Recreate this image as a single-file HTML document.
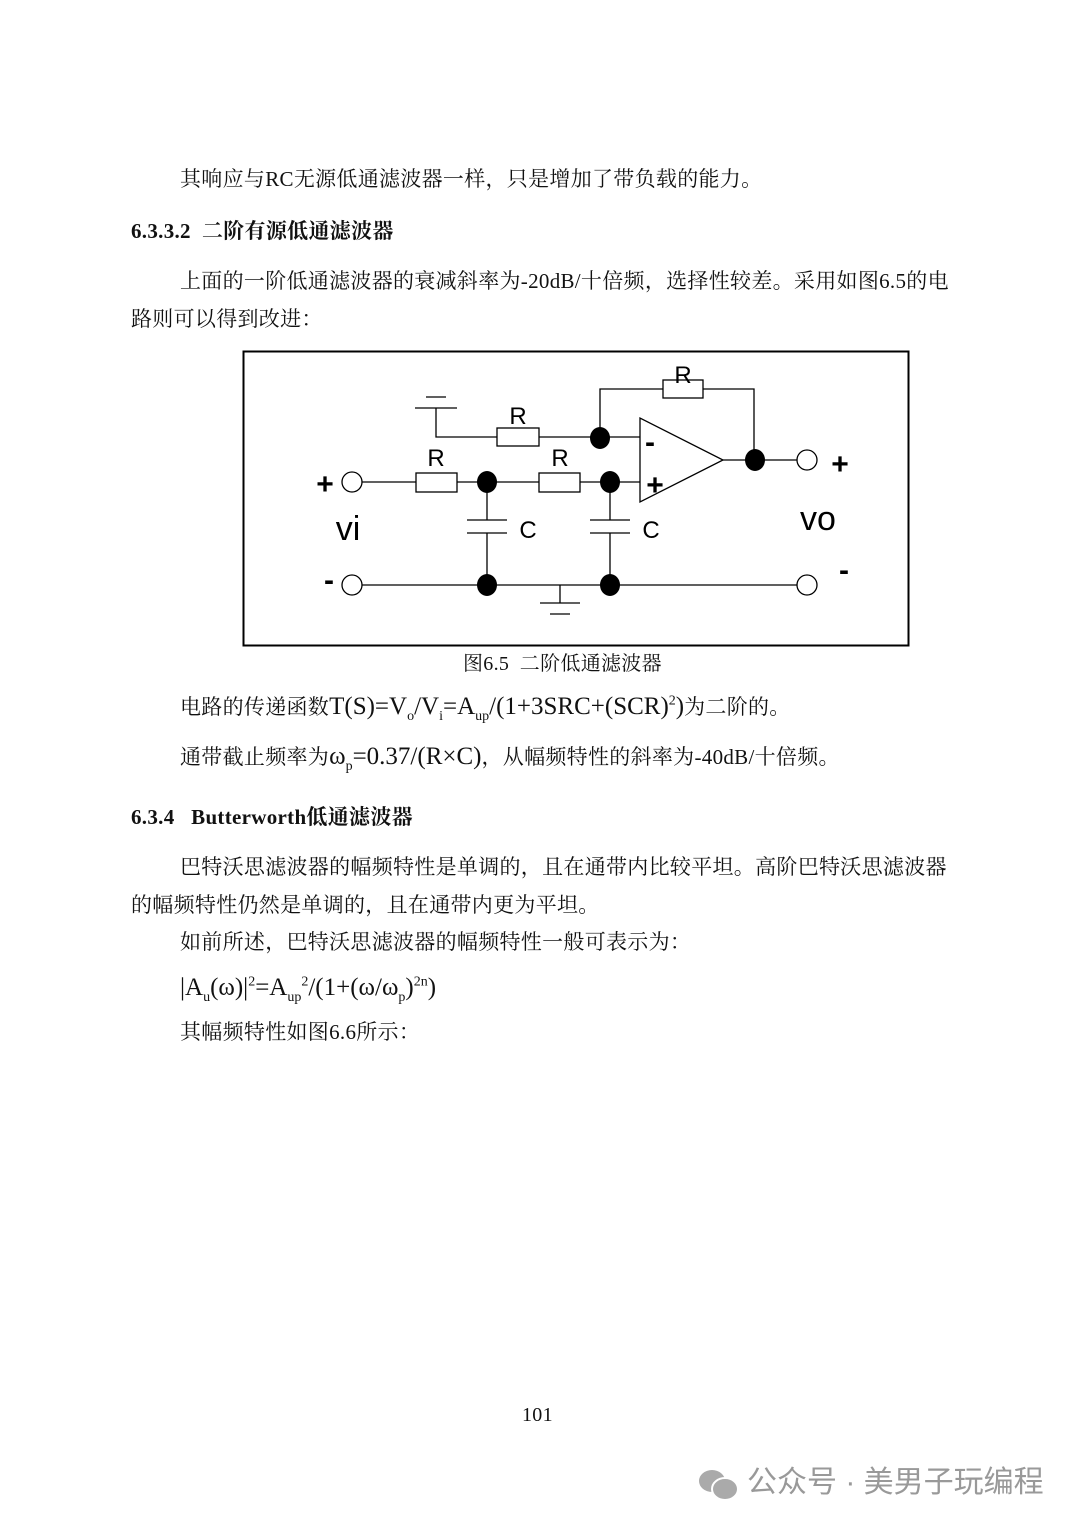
<!DOCTYPE html>
<html><head><meta charset="utf-8"><style>
body{margin:0;width:1080px;height:1528px;background:#fff;position:relative;overflow:hidden;font-family:"Liberation Serif","Noto Serif CJK SC",serif;color:#111}
.t{position:absolute;font-size:21px;white-space:nowrap;line-height:1;letter-spacing:0.3px}
.b{font-weight:bold}
sub,sup{font-size:14px}
.m{font-size:25px;letter-spacing:0}
</style></head><body>
<div class="t" style="left:180px;top:169px">其响应与RC无源低通滤波器一样，只是增加了带负载的能力。</div>
<div class="t b" style="left:131px;top:221px">6.3.3.2&nbsp;&nbsp;二阶有源低通滤波器</div>
<div class="t" style="left:180px;top:271px">上面的一阶低通滤波器的衰减斜率为-20dB/十倍频，选择性较差。采用如图6.5的电</div>
<div class="t" style="left:131px;top:309px">路则可以得到改进：</div>
<svg style="position:absolute;left:0;top:0" width="1080" height="700" font-family="Liberation Sans, sans-serif">
<rect x="243.5" y="351.5" width="665" height="294" fill="none" stroke="#000" stroke-width="2"/>
<g stroke="#000" stroke-width="1.3" fill="none">
<path d="M600 438V389H663M703 389H754V460"/>
<rect x="663" y="380" width="40" height="18" fill="#fff"/>
<path d="M415 408H457M426 397H446M436 408V437H497M539 437H640"/>
<rect x="497" y="428" width="42" height="18" fill="#fff"/>
<path d="M640 418V502L723 460Z" fill="#fff"/>
<path d="M723 460H797"/>
<path d="M362 482H416M457 482H539M580 482H640"/>
<rect x="416" y="473" width="41" height="19" fill="#fff"/>
<rect x="539" y="473" width="41" height="19" fill="#fff"/>
<path d="M487 482V520M467 520H507M467 533H507M487 533V585"/>
<path d="M610 482V520M590 520H630M590 533H630M610 533V585"/>
<path d="M362 585H797M560 585V603M540 603H580M550 614H570"/>
<circle cx="352" cy="482" r="10" fill="#fff"/><circle cx="352" cy="585" r="10" fill="#fff"/>
<circle cx="807" cy="460" r="10" fill="#fff"/><circle cx="807" cy="585" r="10" fill="#fff"/>
</g>
<g fill="#000"><ellipse cx="600" cy="438" rx="10" ry="11"/><ellipse cx="755" cy="460" rx="10" ry="11"/>
<ellipse cx="487" cy="482" rx="10" ry="11"/><ellipse cx="610" cy="482" rx="10" ry="11"/>
<ellipse cx="487" cy="585" rx="10" ry="11"/><ellipse cx="610" cy="585" rx="10" ry="11"/></g>
<g font-size="24" text-anchor="middle">
<text x="683" y="383">R</text><text x="518" y="424">R</text><text x="436" y="466">R</text><text x="560" y="466">R</text>
<text x="528" y="538">C</text><text x="651" y="538">C</text></g>
<g font-size="30" font-weight="bold" text-anchor="middle">
<text x="650" y="452">-</text><text x="655" y="495">+</text>
<text x="325" y="494">+</text><text x="329" y="590">-</text>
<text x="840" y="474">+</text><text x="844" y="580">-</text></g>
<text x="348" y="540" font-size="34" text-anchor="middle">vi</text>
<text x="818" y="530" font-size="34" text-anchor="middle">vo</text>
</svg>
<div class="t" style="left:463px;top:654px;font-size:20px;letter-spacing:0.3px">图6.5&nbsp;&nbsp;二阶低通滤波器</div>
<div class="t" style="left:180px;top:694px">电路的传递函数<span class="m">T(S)=V<sub>o</sub>/V<sub>i</sub>=A<sub>up</sub>/(1+3SRC+(SCR)<sup>2</sup>)</span>为二阶的。</div>
<div class="t" style="left:180px;top:744px">通带截止频率为<span class="m">ω<sub>p</sub>=0.37/(R×C)</span>，从幅频特性的斜率为-40dB/十倍频。</div>
<div class="t b" style="left:131px;top:807px">6.3.4&nbsp;&nbsp;&nbsp;Butterworth低通滤波器</div>
<div class="t" style="left:180px;top:857px">巴特沃思滤波器的幅频特性是单调的，且在通带内比较平坦。高阶巴特沃思滤波器</div>
<div class="t" style="left:131px;top:895px">的幅频特性仍然是单调的，且在通带内更为平坦。</div>
<div class="t" style="left:180px;top:932px">如前所述，巴特沃思滤波器的幅频特性一般可表示为：</div>
<div class="t m" style="left:180px;top:975px">|A<sub>u</sub>(ω)|<sup>2</sup>=A<sub>up</sub><sup>2</sup>/(1+(ω/ω<sub>p</sub>)<sup>2n</sup>)</div>
<div class="t" style="left:180px;top:1022px">其幅频特性如图6.6所示：</div>
<div class="t" style="left:522px;top:1405px;font-size:20px">101</div>
<svg style="position:absolute;left:696px;top:1467px" width="46" height="36"><g fill="#aaa"><ellipse cx="16" cy="14" rx="13" ry="11"/><ellipse cx="29" cy="22" rx="13" ry="11" stroke="#fff" stroke-width="2"/></g></svg>
<div class="t" style="left:747px;top:1468px;font-size:30px;color:#999;letter-spacing:0;font-family:'Liberation Sans','Noto Sans CJK SC',sans-serif">公众号 · 美男子玩编程</div>
</body></html>
